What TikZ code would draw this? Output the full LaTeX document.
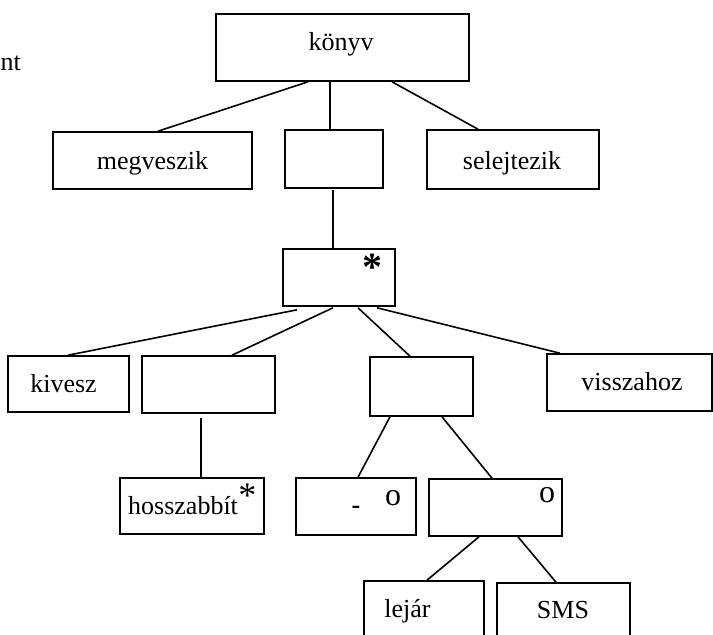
\documentclass[tikz,border=0pt]{standalone}
\usepackage{fontspec}
\setmainfont{Liberation Serif}
\begin{document}
\begin{tikzpicture}[x=1pt,y=-1pt,
  box/.style={draw,line width=1.6pt,rectangle,inner sep=0pt},
  lbl/.style={anchor=base,inner sep=0pt,font=\fontsize{26}{30}\selectfont},
  mark/.style={anchor=base,inner sep=0pt,font=\fontsize{#1}{#1}\selectfont},
  conn/.style={line width=1.6pt}]
\useasboundingbox (0,0) rectangle (713,635);
\clip (0,0) rectangle (713,635);
% boxes
\node[box,minimum width=253pt,minimum height=67pt] (konyv) at (342.5,47.5) {};
\node[box,minimum width=199pt,minimum height=57pt] (megv) at (152.5,160.5) {};
\node[box,minimum width=98pt,minimum height=58pt] (mid1) at (334,159) {};
\node[box,minimum width=172pt,minimum height=59pt] (selej) at (513,159.5) {};
\node[box,minimum width=112pt,minimum height=57pt] (star) at (339,277.5) {};
\node[box,minimum width=121pt,minimum height=56pt] (kivesz) at (68.5,384) {};
\node[box,minimum width=133pt,minimum height=57pt] (mid2) at (208.5,384.5) {};
\node[box,minimum width=103pt,minimum height=59pt] (mid3) at (421.5,386.5) {};
\node[box,minimum width=165pt,minimum height=57pt] (vissza) at (629.5,382.5) {};
\node[box,minimum width=144pt,minimum height=56pt] (hossz) at (192,506) {};
\node[box,minimum width=120pt,minimum height=57pt] (dash) at (356,506.5) {};
\node[box,minimum width=133pt,minimum height=57pt] (obox) at (495.5,507.5) {};
\node[box,minimum width=120pt,minimum height=57pt] (lejar) at (424,609.5) {};
\node[box,minimum width=133pt,minimum height=57pt] (sms) at (563.5,611.5) {};
% texts
\node[lbl,anchor=base west] (nt) at (0.5,70) {nt};
\node[lbl] (tkonyv) at (341,50) {könyv};
\node[lbl] (tmegv) at (152.5,169) {megveszik};
\node[lbl] (tselej) at (512,169) {selejtezik};
\node[mark=40] (tstar) at (372,280) {\bfseries *};
\node[lbl,anchor=base west] (thossz) at (128,514) {hosszabbít};
\node[mark=36,anchor=base west,yshift=7pt] (thstar) at (thossz.base east) {*};
\node[lbl] (tkivesz) at (63.5,392) {kivesz};
\node[lbl] (tvissza) at (632,390) {visszahoz};
\node[lbl] (tdash) at (356,513) {\bfseries -};
\node[mark=32] (to1) at (393,505) {o};
\node[mark=32] (to2) at (547,502) {o};
\node[lbl] (tlejar) at (407.5,617) {lejár};
\node[lbl] (tsms) at (563,618) {SMS};
% connectors
\draw[conn] ([xshift=-34.5pt]konyv.south) -- ([xshift=5.5pt]megv.north);
\draw[conn] ([xshift=-12.5pt]konyv.south) -- ([xshift=-4pt]mid1.north);
\draw[conn] ([xshift=49.5pt]konyv.south) -- ([xshift=-35pt]selej.north);
\draw[conn] ([xshift=-1pt,yshift=-1pt]mid1.south) -- ([xshift=-6pt]star.north);
\draw[conn] ([xshift=-42pt,yshift=-3pt]star.south) -- ([xshift=-0.5pt]kivesz.north);
\draw[conn] ([xshift=-6pt,yshift=-1pt]star.south) -- ([xshift=23.5pt]mid2.north);
\draw[conn] ([xshift=19pt,yshift=-1pt]star.south) -- ([xshift=-11.5pt]mid3.north);
\draw[conn] ([xshift=38pt,yshift=-1pt]star.south) -- ([xshift=-69.5pt]vissza.north);
\draw[conn] ([xshift=-7.5pt,yshift=-4pt]mid2.south) -- ([xshift=9pt]hossz.north);
\draw[conn] ([xshift=-31.5pt]mid3.south) -- ([xshift=2pt]dash.north);
\draw[conn] ([xshift=20.5pt]mid3.south) -- ([xshift=-3.5pt]obox.north);
\draw[conn] ([xshift=-16.5pt]obox.south) -- ([xshift=3pt]lejar.north);
\draw[conn] ([xshift=22.5pt]obox.south) -- ([xshift=-7.5pt]sms.north);
\end{tikzpicture}
\end{document}
